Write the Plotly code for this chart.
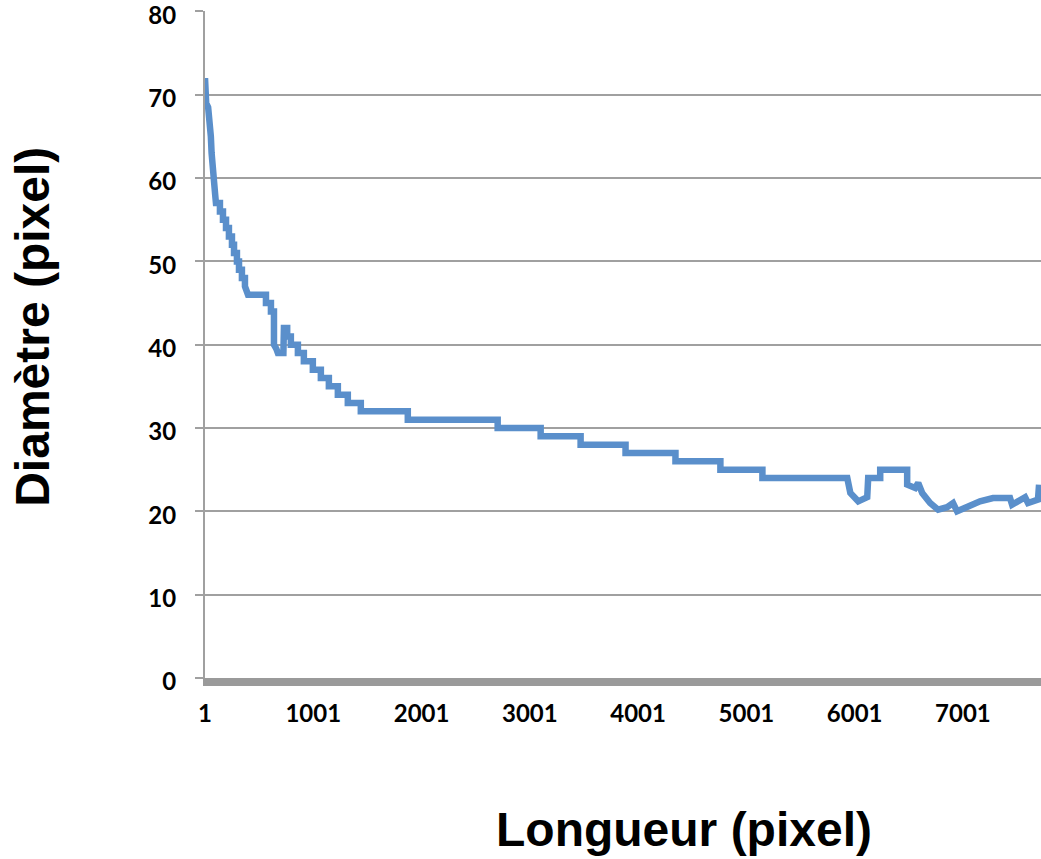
import plotly.graph_objects as go

# Data (x = longueur in pixels, y = diamètre in pixels)
longueur = [1, 4, 8, 12, 30, 45, 55, 62, 70, 80, 95, 102,
            139, 139, 167, 167, 195, 195, 222, 222, 250, 250, 269, 269,
            296, 296, 315, 315, 342, 342, 370, 370, 398, 564, 564, 610, 610,
            638, 638, 660, 674, 725, 730, 760, 760, 794, 794, 859, 859,
            914, 914, 997, 997, 1071, 1071, 1145, 1145, 1228, 1228, 1320, 1320,
            1440, 1440, 1874, 1874, 2704, 2704, 3101, 3101, 3470, 3470, 3885, 3885,
            4346, 4346, 4761, 4761, 5149, 5149, 5933, 5961, 6034, 6117, 6126,
            6237, 6237, 6486, 6486, 6560, 6588, 6625, 6698, 6772, 6855, 6910,
            6947, 7039, 7159, 7279, 7436, 7455, 7529, 7575, 7602, 7694, 7704]
diametre = [72, 71, 70, 69, 68.5, 67, 65, 63, 61, 59.5, 58, 57,
            57, 56, 56, 55, 55, 54, 54, 53, 53, 52, 52, 51,
            51, 50, 50, 49, 49, 48, 48, 47, 46, 46, 45, 45, 44,
            44, 40, 39.5, 39, 39, 42, 42, 41, 41, 40, 40, 39,
            39, 38, 38, 37, 37, 36, 36, 35, 35, 34, 34, 33,
            33, 32, 32, 31, 31, 30, 30, 29, 29, 28, 28, 27,
            27, 26, 26, 25, 25, 24, 24, 22.2, 21.2, 21.7, 24,
            24, 25, 25, 23.2, 22.8, 23.4, 22.2, 21, 20.2, 20.5, 21,
            20, 20.5, 21.2, 21.6, 21.6, 20.8, 21.4, 21.7, 21, 21.4, 23.2]

x_tickvals = [1, 1001, 2001, 3001, 4001, 5001, 6001, 7001]
y_tickvals = [0, 10, 20, 30, 40, 50, 60, 70, 80]
x_title = "Longueur (pixel)"
y_title = "Diamètre (pixel)"

fig = go.Figure()
fig.add_trace(go.Scatter(
    x=longueur, y=diametre, mode="lines",
    line=dict(color="#5A8FCB", width=6.5),
    showlegend=False, cliponaxis=True,
))

tick_font = dict(family="Lato", size=24, color="#000000", weight="bold")
title_font = dict(family="Liberation Sans", size=48, color="#000000", weight="bold")

fig.update_layout(
    width=1041, height=859,
    margin=dict(l=205, r=0, t=11, b=181, autoexpand=False),
    paper_bgcolor="white", plot_bgcolor="white",
    xaxis=dict(
        range=[1, 7722], tickmode="array", tickvals=x_tickvals,
        ticktext=[str(v) for v in x_tickvals],
        showgrid=False, zeroline=False,
        showline=True, linecolor="#9A9A9A", linewidth=8,
        ticks="", tickfont=tick_font, ticklabelstandoff=7,
        ticklabeloverflow="allow",
        automargin=False,
    ),
    yaxis=dict(
        range=[0, 80.05], tickmode="array", tickvals=y_tickvals,
        showgrid=True, gridcolor="#A0A0A0", gridwidth=2,
        zeroline=False,
        showline=True, linecolor="#A0A0A0", linewidth=2,
        ticks="outside", ticklen=8, tickwidth=2, tickcolor="#A0A0A0",
        tickfont=tick_font, ticklabelstandoff=14, ticklabelshift=4,
        ticklabeloverflow="allow",
        automargin=False,
    ),
    annotations=[
        dict(text=x_title, font=title_font, showarrow=False,
             xref="paper", yref="paper", x=0.573, y=-0.2266,
             xanchor="center", yanchor="middle"),
        dict(text=y_title, font=title_font, showarrow=False, textangle=-90,
             xref="paper", yref="paper", x=-0.2057, y=0.5266,
             xanchor="center", yanchor="middle"),
    ],
)

fig.write_html("out.html", config={"displayModeBar": False},
               post_script="document.body.style.margin='0';")
